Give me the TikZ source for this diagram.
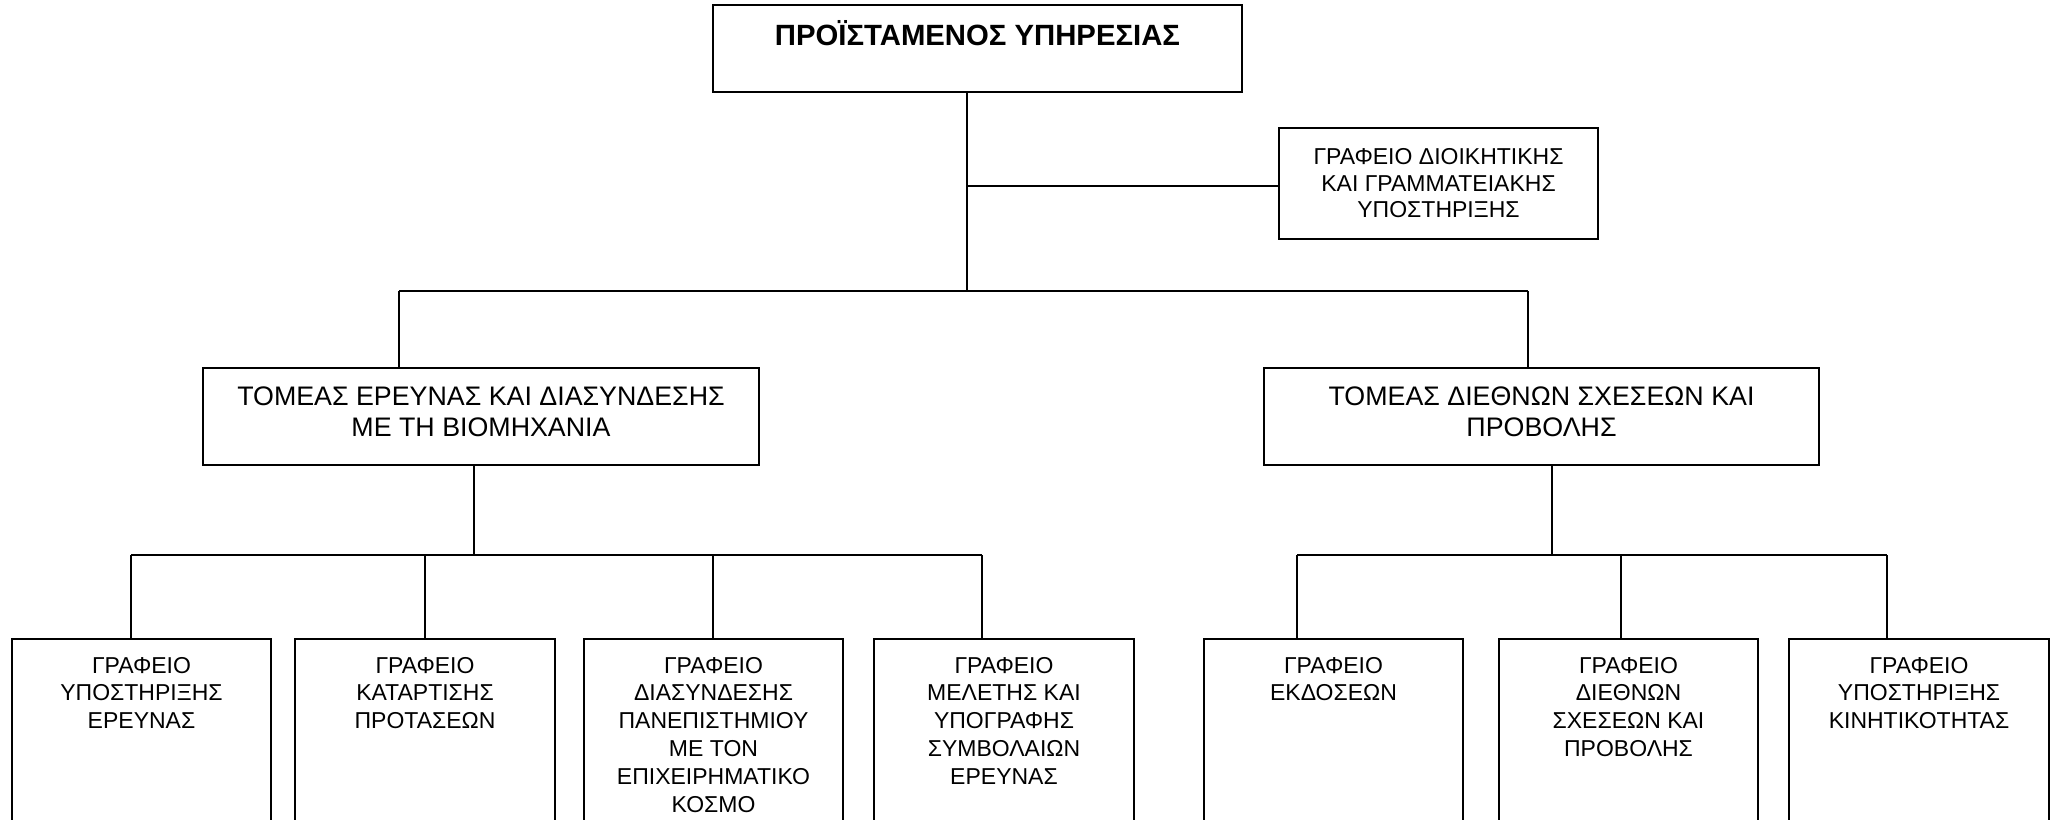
\documentclass[tikz,border=0pt]{standalone}
\usepackage{fontspec}
\setmainfont{Liberation Sans}
\newcommand{\mlines}[1]{\begin{tabular}[t]{@{}c@{}}#1\end{tabular}}
\begin{document}
\begin{tikzpicture}[x=1pt,y=-1pt,
  box/.style={draw=black, line width=1.8pt, rectangle, inner sep=0, outer sep=0, anchor=north west, fill=white},
  conn/.style={draw=black, line width=1.4pt},
  txt/.style={anchor=base, inner sep=0, outer sep=0},
  ttxt/.style={txt, font=\bfseries\fontsize{29.3}{33}\selectfont},
  stxt/.style={txt, font=\fontsize{23}{26.7}\selectfont},
  sectxt/.style={txt, font=\fontsize{26.8}{31.7}\selectfont},
  btxt/.style={txt, font=\fontsize{23}{27.8}\selectfont}
]
\useasboundingbox (0,0) rectangle (2058,819);
\clip (0,0) rectangle (2058,819);
% junction coordinates
\coordinate (j0) at (967,291);
\coordinate (js) at (967,186);
\coordinate (hl) at (399,291);
\coordinate (hr) at (1528,291);
\coordinate (jl) at (474,555);
\coordinate (jr) at (1552,555);
\coordinate (c1) at (131,555);
\coordinate (c2) at (425,555);
\coordinate (c3) at (713,555);
\coordinate (c4) at (982,555);
\coordinate (c5) at (1297,555);
\coordinate (c6) at (1621,555);
\coordinate (c7) at (1887,555);

% boxes
\node[box, minimum width=529pt, minimum height=87pt] (top) at (713,5) {};
\node[box, minimum width=319pt, minimum height=111pt] (side) at (1279,128) {};
\node[box, minimum width=556pt, minimum height=97pt] (secL) at (203,368) {};
\node[box, minimum width=555pt, minimum height=97pt] (secR) at (1264,368) {};
\node[box, minimum width=259pt, minimum height=230pt] (b1) at (12,639) {};
\node[box, minimum width=260pt, minimum height=230pt] (b2) at (295,639) {};
\node[box, minimum width=259pt, minimum height=230pt] (b3) at (584,639) {};
\node[box, minimum width=260pt, minimum height=230pt] (b4) at (874,639) {};
\node[box, minimum width=259pt, minimum height=230pt] (b5) at (1204,639) {};
\node[box, minimum width=259pt, minimum height=230pt] (b6) at (1499,639) {};
\node[box, minimum width=260pt, minimum height=230pt] (b7) at (1789,639) {};

% texts
\node[ttxt] (ttop) at ([yshift=-40pt]top.north) {ΠΡΟΪΣΤΑΜΕΝΟΣ ΥΠΗΡΕΣΙΑΣ};
\node[stxt] (tside) at ([yshift=-36.5pt]side.north) {\mlines{ΓΡΑΦΕΙΟ ΔΙΟΙΚΗΤΙΚΗΣ\\ΚΑΙ ΓΡΑΜΜΑΤΕΙΑΚΗΣ\\ΥΠΟΣΤΗΡΙΞΗΣ}};
\node[sectxt] (tsecL) at ([yshift=-37pt]secL.north) {\mlines{ΤΟΜΕΑΣ ΕΡΕΥΝΑΣ ΚΑΙ ΔΙΑΣΥΝΔΕΣΗΣ\\ΜΕ ΤΗ ΒΙΟΜΗΧΑΝΙΑ}};
\node[sectxt] (tsecR) at ([yshift=-37pt]secR.north) {\mlines{ΤΟΜΕΑΣ ΔΙΕΘΝΩΝ ΣΧΕΣΕΩΝ ΚΑΙ\\ΠΡΟΒΟΛΗΣ}};
\node[btxt] (t1) at ([yshift=-34pt]b1.north) {\mlines{ΓΡΑΦΕΙΟ\\ΥΠΟΣΤΗΡΙΞΗΣ\\ΕΡΕΥΝΑΣ}};
\node[btxt] (t2) at ([yshift=-34pt]b2.north) {\mlines{ΓΡΑΦΕΙΟ\\ΚΑΤΑΡΤΙΣΗΣ\\ΠΡΟΤΑΣΕΩΝ}};
\node[btxt] (t3) at ([yshift=-34pt]b3.north) {\mlines{ΓΡΑΦΕΙΟ\\ΔΙΑΣΥΝΔΕΣΗΣ\\ΠΑΝΕΠΙΣΤΗΜΙΟΥ\\ΜΕ ΤΟΝ\\ΕΠΙΧΕΙΡΗΜΑΤΙΚΟ\\ΚΟΣΜΟ}};
\node[btxt] (t4) at ([yshift=-34pt]b4.north) {\mlines{ΓΡΑΦΕΙΟ\\ΜΕΛΕΤΗΣ ΚΑΙ\\ΥΠΟΓΡΑΦΗΣ\\ΣΥΜΒΟΛΑΙΩΝ\\ΕΡΕΥΝΑΣ}};
\node[btxt] (t5) at ([yshift=-34pt]b5.north) {\mlines{ΓΡΑΦΕΙΟ\\ΕΚΔΟΣΕΩΝ}};
\node[btxt] (t6) at ([yshift=-34pt]b6.north) {\mlines{ΓΡΑΦΕΙΟ\\ΔΙΕΘΝΩΝ\\ΣΧΕΣΕΩΝ ΚΑΙ\\ΠΡΟΒΟΛΗΣ}};
\node[btxt] (t7) at ([yshift=-34pt]b7.north) {\mlines{ΓΡΑΦΕΙΟ\\ΥΠΟΣΤΗΡΙΞΗΣ\\ΚΙΝΗΤΙΚΟΤΗΤΑΣ}};

% connectors
\draw[conn] (top.south -| j0) -- (j0);
\draw[conn] (js) -- (js -| side.west);
\draw[conn] (hl) -- (hr);
\draw[conn] (hl) -- (secL.north -| hl);
\draw[conn] (hr) -- (secR.north -| hr);
\draw[conn] (secL.south -| jl) -- (jl);
\draw[conn] (secR.south -| jr) -- (jr);
\draw[conn] (c1) -- (c4);
\draw[conn] (c5) -- (c7);
\draw[conn] (c1) -- (b1.north -| c1);
\draw[conn] (c2) -- (b2.north -| c2);
\draw[conn] (c3) -- (b3.north -| c3);
\draw[conn] (c4) -- (b4.north -| c4);
\draw[conn] (c5) -- (b5.north -| c5);
\draw[conn] (c6) -- (b6.north -| c6);
\draw[conn] (c7) -- (b7.north -| c7);
\end{tikzpicture}
\end{document}
